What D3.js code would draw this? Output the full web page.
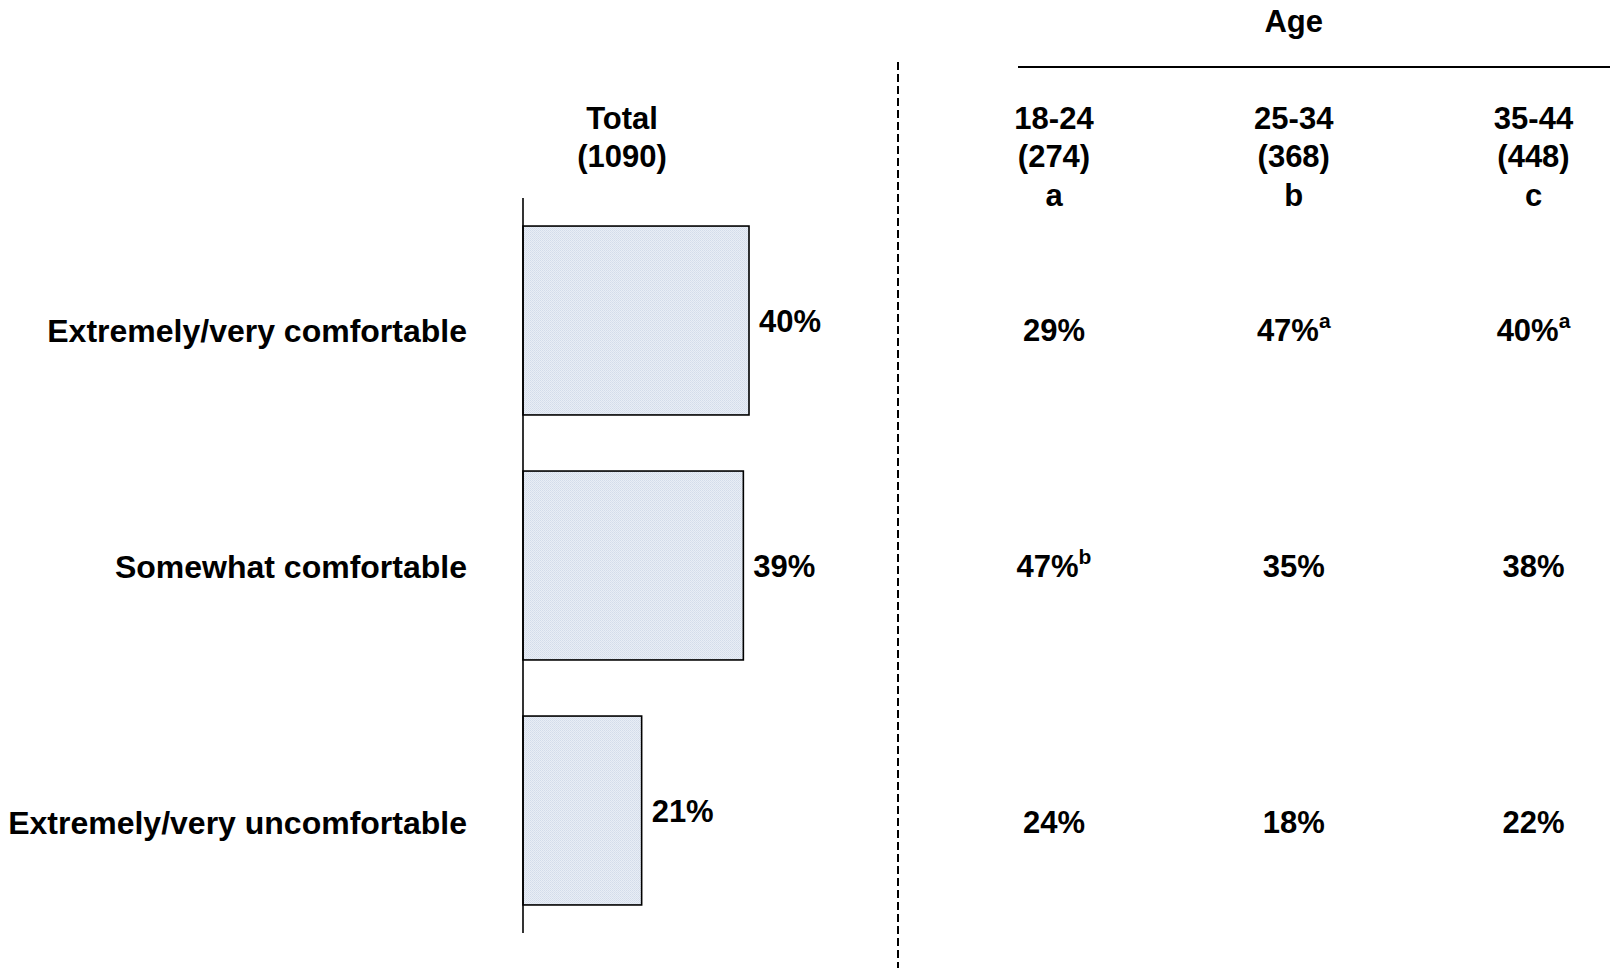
<!DOCTYPE html>
<html>
<head>
<meta charset="utf-8">
<script src="https://cdn.jsdelivr.net/npm/d3@7"></script>
<style>
  html, body { margin: 0; padding: 0; background: #ffffff; }
  svg { display: block; }
  text { font-family: "Liberation Sans", Arial, sans-serif; font-weight: bold; fill: #000; }
</style>
</head>
<body>
<svg id="chart" width="1610" height="968"></svg>
<script>
// ---- data ----
const categories = ["Extremely/very comfortable", "Somewhat comfortable", "Extremely/very uncomfortable"];
const totalValues = [40, 39, 21];
const totalHeader = ["Total", "(1090)"];
const ageGroupTitle = "Age";
const ageColumns = ["18-24", "25-34", "35-44"];
const ageBases = ["(274)", "(368)", "(448)"];
const ageLetters = ["a", "b", "c"];
const ageValues18_24 = [29, 47, 24];
const ageValues25_34 = [47, 35, 18];
const ageValues35_44 = [40, 38, 22];
const ageSig18_24 = ["", "b", ""];
const ageSig25_34 = ["a", "", ""];
const ageSig35_44 = ["a", "", ""];

const ageValues = [ageValues18_24, ageValues25_34, ageValues35_44];
const ageSig = [ageSig18_24, ageSig25_34, ageSig35_44];

// ---- layout ----
const svg = d3.select("#chart");
const W = 1610, H = 968;

const defs = svg.append("defs");
const pat = defs.append("pattern")
  .attr("id", "dots").attr("width", 2).attr("height", 2)
  .attr("patternUnits", "userSpaceOnUse");
pat.append("rect").attr("width", 2).attr("height", 2).attr("fill", "#e9eef6");
pat.append("rect").attr("width", 1).attr("height", 1).attr("fill", "#d3dcea");
pat.append("rect").attr("x", 1).attr("y", 1).attr("width", 1).attr("height", 1).attr("fill", "#d9e1ed");

const x = d3.scaleLinear().domain([0, 100]).range([523, 523 + 565]);
const y = d3.scaleBand().domain(categories).range([198, 933])
  .paddingInner(0.229).paddingOuter(0.1145);

// table text rows sit slightly off the bar centres (as in the original)
const rowOffsets = [10, 1, 12];

// bars
svg.append("g").selectAll("rect")
  .data(categories)
  .join("rect")
  .attr("x", x(0))
  .attr("y", d => y(d))
  .attr("width", (d, i) => x(totalValues[i]) - x(0))
  .attr("height", y.bandwidth())
  .attr("fill", "url(#dots)")
  .attr("stroke", "#000")
  .attr("stroke-width", 1.6);

// vertical axis line
svg.append("line")
  .attr("x1", x(0)).attr("x2", x(0))
  .attr("y1", y.range()[0]).attr("y2", y.range()[1])
  .attr("stroke", "#000").attr("stroke-width", 1.6);

// bar value labels
svg.append("g").selectAll("text")
  .data(categories)
  .join("text")
  .attr("x", (d, i) => x(totalValues[i]) + 10)
  .attr("y", d => y(d) + y.bandwidth() / 2 + 1)
  .attr("dy", "0.35em")
  .style("font-size", "31px")
  .text((d, i) => totalValues[i] + "%");

// category labels
svg.append("g").selectAll("text")
  .data(categories)
  .join("text")
  .attr("x", 467)
  .attr("y", (d, i) => y(d) + y.bandwidth() / 2 + rowOffsets[i])
  .attr("dy", "0.35em")
  .attr("text-anchor", "end")
  .style("font-size", "32px")
  .text(d => d);

// Total header
svg.append("g").selectAll("text")
  .data(totalHeader)
  .join("text")
  .attr("x", 622)
  .attr("y", (d, i) => 128.5 + i * 38.5)
  .attr("text-anchor", "middle")
  .style("font-size", "31px")
  .text(d => d);

// dashed separator
svg.append("line")
  .attr("x1", 898).attr("x2", 898)
  .attr("y1", 62).attr("y2", H)
  .attr("stroke", "#000").attr("stroke-width", 2)
  .attr("stroke-dasharray", "8,4");

// Age group header
const cx = d3.scalePoint().domain(ageColumns).range([1054, 1533.5]);

svg.append("text")
  .attr("x", cx(ageColumns[1]))
  .attr("y", 31.5)
  .attr("text-anchor", "middle")
  .style("font-size", "31px")
  .text(ageGroupTitle);

svg.append("line")
  .attr("x1", 1018).attr("x2", W)
  .attr("y1", 67).attr("y2", 67)
  .attr("stroke", "#000").attr("stroke-width", 2);

// column headers
const headG = svg.append("g");
ageColumns.forEach((c, j) => {
  [c, ageBases[j], ageLetters[j]].forEach((t, k) => {
    headG.append("text")
      .attr("x", cx(c))
      .attr("y", 128.5 + k * 38.5)
      .attr("text-anchor", "middle")
      .style("font-size", "31px")
      .text(t);
  });
});

// table values
const tableG = svg.append("g");
ageColumns.forEach((c, j) => {
  categories.forEach((cat, i) => {
    const t = tableG.append("text")
      .attr("x", cx(c))
      .attr("y", y(cat) + y.bandwidth() / 2 + rowOffsets[i])
      .attr("dy", "0.35em")
      .attr("text-anchor", "middle")
      .style("font-size", "31px");
    t.append("tspan").text(ageValues[j][i] + "%");
    if (ageSig[j][i]) {
      t.append("tspan")
        .attr("dy", "-0.62em")
        .style("font-size", "21px")
        .text(ageSig[j][i]);
    }
  });
});
</script>
</body>
</html>
